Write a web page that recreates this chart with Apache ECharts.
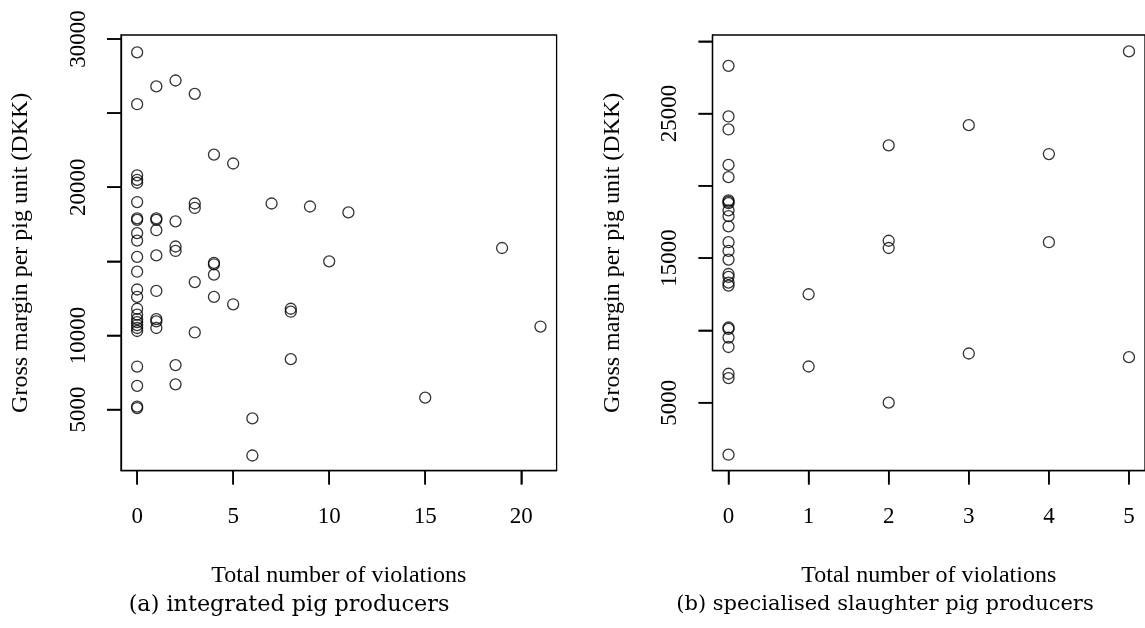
<!DOCTYPE html>
<html>
<head>
<meta charset="utf-8">
<script src="https://cdn.jsdelivr.net/npm/echarts@6/dist/echarts.min.js"></script>
<style>
  html, body { margin: 0; padding: 0; background: #fff; }
  #chart { width: 1145px; height: 628px; }
</style>
</head>
<body>
<div id="chart"></div>
<script>
  // (a) integrated pig producers
  let intViolations = [
    0, 0, 0, 0, 0, 0, 0, 0, 0, 0, 0, 0, 0, 0, 0, 0, 0, 0, 0, 0, 0, 0, 0, 0, 0,
    1, 1, 1, 1, 1, 1, 1, 1, 1,
    2, 2, 2, 2, 2, 2,
    3, 3, 3, 3, 3,
    4, 4, 4, 4, 4,
    5, 5, 6, 6, 7, 8, 8, 8, 9, 10, 11, 15, 19, 21
  ]
  let intMargin = [
    29100, 25600, 20800, 20500, 20300, 19000, 17900, 17800, 16900, 16400, 15300, 14300, 13100,
    12600, 11800, 11400, 11100, 10900, 10700, 10500, 10300, 7900, 6600, 5200, 5100,
    26800, 17900, 17800, 17100, 15400, 13000, 11100, 10950, 10500,
    27200, 17700, 16000, 15700, 8000, 6700,
    26300, 18900, 18600, 13600, 10200,
    22200, 14900, 14800, 14100, 12600,
    21600, 12100, 4400, 1900, 18900, 11800, 11600, 8400, 18700, 15000, 18300, 5800, 15900, 10600
  ]
  // (b) specialised slaughter pig producers
  let slViolations = [
    0, 0, 0, 0, 0, 0, 0, 0, 0, 0, 0, 0, 0, 0, 0, 0, 0, 0, 0, 0, 0, 0, 0, 0, 0,
    1, 1, 2, 2, 2, 2, 3, 3, 4, 4, 5, 5
  ]
  let slMargin = [
    28300, 24800, 23900, 21450, 20600, 19000, 18900, 18800, 18300, 17900, 17200, 16100, 15500,
    14900, 13900, 13700, 13300, 13100, 10200, 10100, 9500, 8850, 7000, 6700, 1400,
    12500, 7500, 22800, 16200, 15700, 5000, 24200, 8400, 22200, 16100, 29300, 8150
  ]

  let intXTicks = [0, 5, 10, 15, 20]
  let slXTicks = [0, 1, 2, 3, 4, 5]
  let yTicks = [5000, 10000, 15000, 20000, 25000, 30000]
  let intYLabels = [5000, 10000, 20000, 30000]
  let slYLabels = [5000, 15000, 25000]

  // axis limits (R style: data range padded by 4%)
  let intXRange = [-0.84, 21.84]
  let intYRange = [880, 30270]
  let slXRange = [-0.2, 5.2]
  let slYRange = [300, 30435]

  let xTitle = 'Total number of violations'
  let yTitle = 'Gross margin per pig unit (DKK)'
  let captions = ['(a) integrated pig producers', '(b) specialised slaughter pig producers']

  const serif = 'Liberation Serif'
  const black = '#000'
  const tickLen = 14
  const boxTop = 35
  const boxSize = 435.6
  const boxLefts = [121, 712.5]

  function pairs (xs, ys) {
    return xs.map((x, i) => [x, ys[i]])
  }

  function plain (v) {
    return String(v)
  }

  function xAxisOf (gridIndex, range, ticks) {
    return {
      gridIndex: gridIndex,
      type: 'value',
      min: range[0],
      max: range[1],
      name: xTitle,
      nameLocation: 'middle',
      nameGap: 93,
      nameTextStyle: { fontFamily: serif, fontSize: 24, color: black },
      axisLine: { show: true, onZero: false, lineStyle: { color: black, width: 1.3 } },
      splitLine: { show: false },
      axisTick: { show: true, inside: false, length: tickLen, lineStyle: { color: black, width: 1.5 }, customValues: ticks },
      axisLabel: { fontFamily: serif, fontSize: 23, color: black, margin: 35, formatter: plain, customValues: ticks }
    }
  }

  function yAxisOf (gridIndex, range, labels) {
    return {
      gridIndex: gridIndex,
      type: 'value',
      min: range[0],
      max: range[1],
      name: yTitle,
      nameLocation: 'middle',
      nameGap: 88,
      nameRotate: 90,
      nameTextStyle: { fontFamily: serif, fontSize: 24, color: black },
      axisLine: { show: true, onZero: false, lineStyle: { color: black, width: 1.3 } },
      splitLine: { show: false },
      axisTick: { show: true, inside: false, length: tickLen, lineStyle: { color: black, width: 1.5 }, customValues: yTicks },
      axisLabel: { fontFamily: serif, fontSize: 23, color: black, margin: 31, rotate: 90, formatter: plain, customValues: labels }
    }
  }

  // hidden axis for the thin strips that hold the tick marks
  function hiddenAxis (gridIndex, range) {
    return { gridIndex: gridIndex, type: 'value', min: range[0], max: range[1], show: false }
  }

  function scatterOf (index, data) {
    return {
      type: 'scatter',
      xAxisIndex: index,
      yAxisIndex: index,
      data: data,
      symbol: 'circle',
      symbolSize: 11,
      silent: true,
      itemStyle: { color: 'rgba(0,0,0,0)', borderColor: black, borderWidth: 1.3 }
    }
  }

  function tickSeries (index, data, size) {
    return {
      type: 'scatter',
      xAxisIndex: index,
      yAxisIndex: index,
      data: data,
      symbol: 'rect',
      symbolSize: size,
      silent: true,
      z: 10,
      itemStyle: { color: black, opacity: 1 }
    }
  }

  let grids = [
    { left: boxLefts[0], width: boxSize, top: boxTop, height: boxSize, show: true, borderColor: black, borderWidth: 1.3 },
    { left: boxLefts[1], width: boxSize, top: boxTop, height: boxSize, show: true, borderColor: black, borderWidth: 1.3 },
    // tick strips: below (a), left of (a), below (b), left of (b)
    { left: boxLefts[0], width: boxSize, top: boxTop + boxSize, height: tickLen },
    { left: boxLefts[0] - tickLen, width: tickLen, top: boxTop, height: boxSize },
    { left: boxLefts[1], width: boxSize, top: boxTop + boxSize, height: tickLen },
    { left: boxLefts[1] - tickLen, width: tickLen, top: boxTop, height: boxSize }
  ]

  let myChart = echarts.init(document.getElementById('chart'))
  myChart.setOption({
    animation: false,
    grid: grids,
    xAxis: [
      xAxisOf(0, intXRange, intXTicks),
      xAxisOf(1, slXRange, slXTicks),
      hiddenAxis(2, intXRange),
      hiddenAxis(3, [0, 1]),
      hiddenAxis(4, slXRange),
      hiddenAxis(5, [0, 1])
    ],
    yAxis: [
      yAxisOf(0, intYRange, intYLabels),
      yAxisOf(1, slYRange, slYLabels),
      hiddenAxis(2, [0, 1]),
      hiddenAxis(3, intYRange),
      hiddenAxis(4, [0, 1]),
      hiddenAxis(5, slYRange)
    ],
    series: [
      scatterOf(0, pairs(intViolations, intMargin)),
      scatterOf(1, pairs(slViolations, slMargin)),
      tickSeries(2, intXTicks.map(v => [v, 0.5]), [1.5, tickLen]),
      tickSeries(3, yTicks.map(v => [0.5, v]), [tickLen, 1.5]),
      tickSeries(4, slXTicks.map(v => [v, 0.5]), [1.5, tickLen]),
      tickSeries(5, yTicks.map(v => [0.5, v]), [tickLen, 1.5])
    ],
    graphic: [
      {
        type: 'text', x: 289, y: 605,
        style: { text: captions[0], fontFamily: 'DejaVu Serif', fontSize: 22.3, fill: black, align: 'center', verticalAlign: 'middle' }
      },
      {
        type: 'text', x: 885, y: 605,
        style: { text: captions[1], fontFamily: 'DejaVu Serif', fontSize: 21, fill: black, align: 'center', verticalAlign: 'middle' }
      }
    ]
  })

  window.addEventListener('resize', function () {
    myChart.resize()
  })
</script>
</body>
</html>
